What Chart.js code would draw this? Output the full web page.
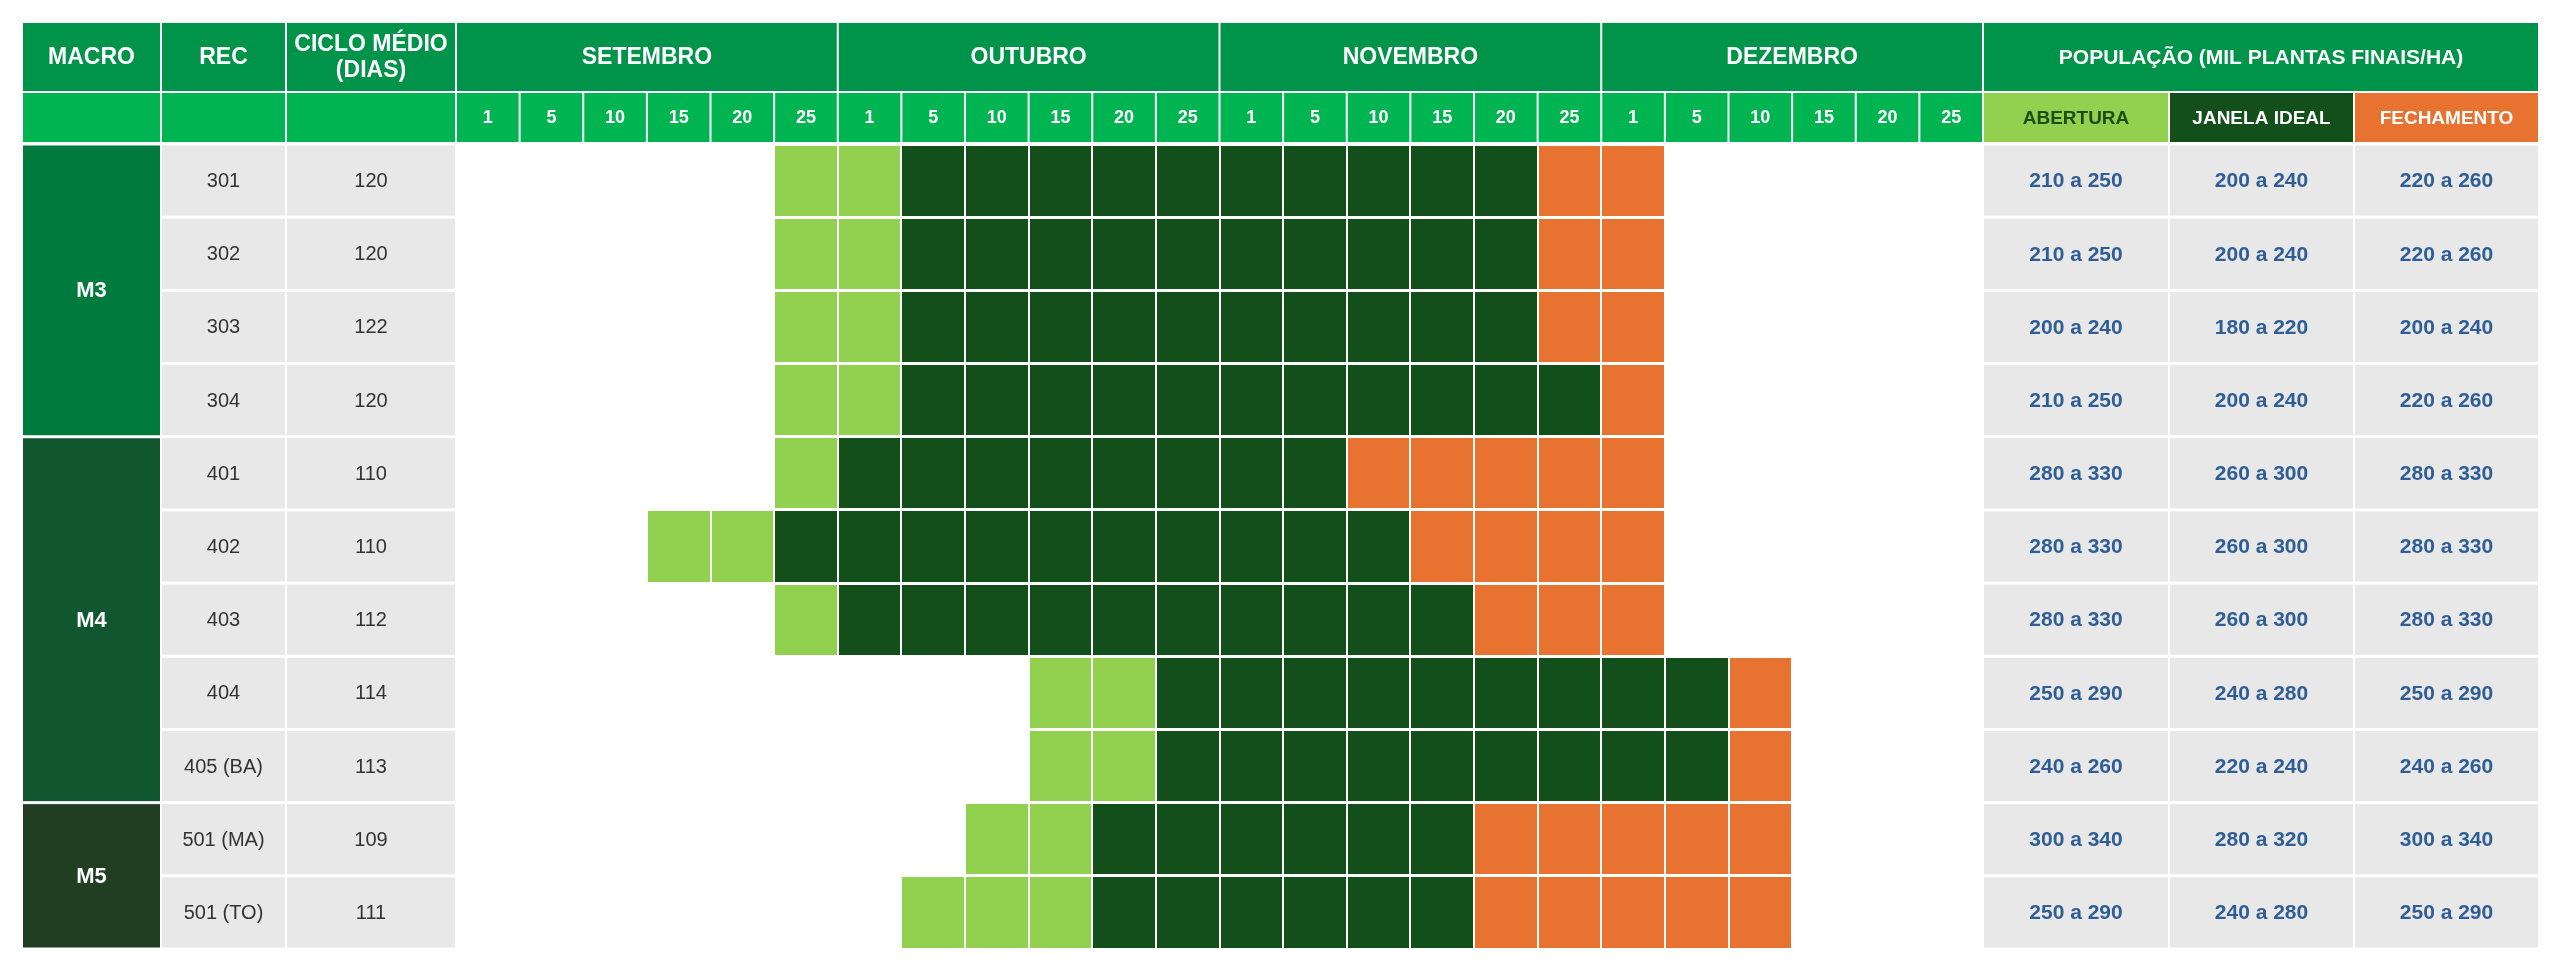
<!DOCTYPE html>
<html>
<head>
<meta charset="utf-8">
<script src="https://cdn.jsdelivr.net/npm/chart.js@4.4.1/dist/chart.umd.min.js"></script>
<style>
  html, body { margin: 0; padding: 0; background: #fff; }
  #wrap { width: 2560px; height: 970px; position: relative; }
</style>
</head>
<body>
<div id="wrap"><canvas id="myChart"></canvas></div>
<script>
var months = ['SETEMBRO', 'OUTUBRO', 'NOVEMBRO', 'DEZEMBRO'];
var days = ['1', '5', '10', '15', '20', '25'];
var macros = ['M3', 'M4', 'M5'];
var macroRows = [4, 5, 2];
var recs = ['301', '302', '303', '304', '401', '402', '403', '404', '405 (BA)', '501 (MA)', '501 (TO)'];
var ciclo = ['120', '120', '122', '120', '110', '110', '112', '114', '113', '109', '111'];

// janelas em indice de coluna (0 = 1 de setembro ... 23 = 25 de dezembro), [inicio, fim)
var abertura = [[5, 7], [5, 7], [5, 7], [5, 7], [5, 6], [3, 5], [5, 6], [9, 11], [9, 11], [8, 10], [7, 10]];
var ideal = [[7, 17], [7, 17], [7, 17], [7, 18], [6, 14], [5, 15], [6, 16], [11, 20], [11, 20], [10, 16], [10, 16]];
var fechamento = [[17, 19], [17, 19], [17, 19], [18, 19], [14, 19], [15, 19], [16, 19], [20, 21], [20, 21], [16, 21], [16, 21]];

var popHeaders = ['ABERTURA', 'JANELA IDEAL', 'FECHAMENTO'];
var popAbertura = ['210 a 250', '210 a 250', '200 a 240', '210 a 250', '280 a 330', '280 a 330', '280 a 330', '250 a 290', '240 a 260', '300 a 340', '250 a 290'];
var popIdeal = ['200 a 240', '200 a 240', '180 a 220', '200 a 240', '260 a 300', '260 a 300', '260 a 300', '240 a 280', '220 a 240', '280 a 320', '240 a 280'];
var popFechamento = ['220 a 260', '220 a 260', '200 a 240', '220 a 260', '280 a 330', '280 a 330', '280 a 330', '250 a 290', '240 a 260', '300 a 340', '250 a 290'];

var FONT = '"Liberation Sans", Arial, sans-serif';
var cLight = '#92D050',
    cDark = '#124F1A',
    cOrange = '#E8722F',
    cHead = '#00934A',
    cSub = '#00B451',
    cGrey = '#E8E8E8',
    macroColors = ['#007A3D', '#10562F', '#213D22'];

// colunas fixas fora da area do grafico
var leftCols = [[23, 160], [162, 285], [287, 455]],
    rightCols = [[1984, 2168], [2170, 2353], [2355, 2538]],
    head1 = [23, 91],
    head2 = [93, 142];

function cell(ctx, x0, x1, y0, y1, bg, text, font, color) {
  ctx.fillStyle = bg;
  ctx.fillRect(x0, y0, x1 - x0, y1 - y0);
  if (text === undefined || text === '') return;
  ctx.font = font;
  ctx.fillStyle = color;
  ctx.textAlign = 'center';
  ctx.textBaseline = 'middle';
  var lines = text.split('\n'), lh = 26;
  var cy = (y0 + y1) / 2 - (lines.length - 1) * lh / 2;
  lines.forEach(function(l, i) {
    ctx.fillText(l, (x0 + x1) / 2, cy + i * lh + 1);
  });
}

var tablePlugin = {
  id: 'tabela',
  afterDraw: function(chart) {
    var ctx = chart.ctx, x = chart.scales.x, y = chart.scales.y, area = chart.chartArea;
    var rowH = (area.bottom - area.top) / recs.length;
    var top = function(i) { return y.getPixelForValue(i) - rowH / 2 + 1.5; };
    var bot = function(i) { return y.getPixelForValue(i) + rowH / 2 - 1.5; };
    var hb = 'bold 23px ' + FONT;
    ctx.save();

    // cabecalho linha 1
    ['MACRO', 'REC', 'CICLO MÉDIO\n(DIAS)'].forEach(function(t, i) {
      cell(ctx, leftCols[i][0], leftCols[i][1], head1[0], head1[1], cHead, t, hb, '#fff');
      cell(ctx, leftCols[i][0], leftCols[i][1], head2[0], head2[1], cSub, '', hb, '#fff');
    });
    months.forEach(function(m, i) {
      var a = x.getPixelForValue(i * days.length) + 1,
          b = x.getPixelForValue((i + 1) * days.length) - 1;
      cell(ctx, a, b, head1[0], head1[1], cHead, m, hb, '#fff');
      days.forEach(function(d, j) {
        var k = i * days.length + j;
        cell(ctx, x.getPixelForValue(k) + 1, x.getPixelForValue(k + 1) - 1, head2[0], head2[1], cSub, d, 'bold 18px ' + FONT, '#fff');
      });
    });
    cell(ctx, rightCols[0][0], rightCols[2][1], head1[0], head1[1], cHead, 'POPULAÇÃO (MIL PLANTAS FINAIS/HA)', 'bold 21px ' + FONT, '#fff');
    var popBg = [cLight, cDark, cOrange], popFg = ['#1E4D12', '#fff', '#fff'];
    popHeaders.forEach(function(t, i) {
      cell(ctx, rightCols[i][0], rightCols[i][1], head2[0], head2[1], popBg[i], t, 'bold 19px ' + FONT, popFg[i]);
    });

    // macro
    var r = 0;
    macros.forEach(function(m, i) {
      cell(ctx, leftCols[0][0], leftCols[0][1], top(r), bot(r + macroRows[i] - 1), macroColors[i], m, 'bold 22px ' + FONT, '#fff');
      r += macroRows[i];
    });

    // linhas
    var pops = [popAbertura, popIdeal, popFechamento];
    recs.forEach(function(rec, i) {
      cell(ctx, leftCols[1][0], leftCols[1][1], top(i), bot(i), cGrey, rec, '20px ' + FONT, '#333');
      cell(ctx, leftCols[2][0], leftCols[2][1], top(i), bot(i), cGrey, ciclo[i], '20px ' + FONT, '#333');
      pops.forEach(function(p, k) {
        cell(ctx, rightCols[k][0], rightCols[k][1], top(i), bot(i), cGrey, p[i], 'bold 21px ' + FONT, '#2F5E96');
      });
    });
    ctx.restore();
  }
};

var barOpts = { borderWidth: 0, barPercentage: 1, categoryPercentage: 1, grouped: false };

var chart = new Chart(document.getElementById('myChart'), {
  type: 'bar',
  data: {
    labels: recs,
    datasets: [
      Object.assign({ label: 'ABERTURA', data: abertura, backgroundColor: cLight }, barOpts),
      Object.assign({ label: 'JANELA IDEAL', data: ideal, backgroundColor: cDark }, barOpts),
      Object.assign({ label: 'FECHAMENTO', data: fechamento, backgroundColor: cOrange }, barOpts)
    ]
  },
  options: {
    indexAxis: 'y',
    responsive: true,
    maintainAspectRatio: false,
    devicePixelRatio: 1,
    animation: false,
    layout: { padding: { left: 456, right: 577, top: 144, bottom: 21 } },
    plugins: { legend: { display: false }, tooltip: { enabled: false } },
    scales: {
      x: {
        type: 'linear', min: 0, max: months.length * days.length,
        ticks: { display: false, stepSize: 1 },
        grid: { color: '#fff', lineWidth: 2, z: 1, drawTicks: false },
        border: { display: false }
      },
      y: {
        offset: true,
        ticks: { display: false },
        grid: { color: '#fff', lineWidth: 3, z: 1, drawTicks: false, offset: true },
        border: { display: false }
      }
    }
  },
  plugins: [tablePlugin]
});
</script>
</body>
</html>
